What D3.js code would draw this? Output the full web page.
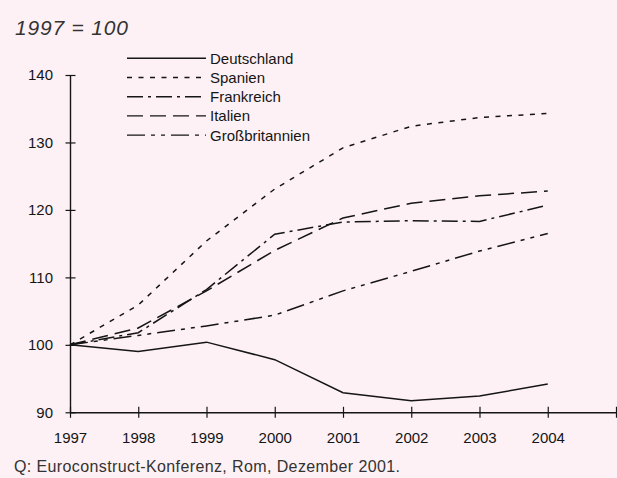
<!DOCTYPE html>
<html>
<head>
<meta charset="utf-8">
<script src="https://cdn.jsdelivr.net/npm/d3@7"></script>
<style>
  html, body { margin: 0; padding: 0; background: #fdf1f5; }
  svg { display: block; font-family: "Liberation Sans", Arial, sans-serif; }
</style>
</head>
<body>
<div id="container"></div>
<script>
const width = 617, height = 478;

// Data — construction index, 1997 = 100
const years = [1997, 1998, 1999, 2000, 2001, 2002, 2003, 2004];
const deutschland = [100, 99.0, 100.4, 97.8, 92.9, 91.7, 92.4, 94.2];
const spanien = [100, 105.9, 115.4, 123.1, 129.2, 132.4, 133.7, 134.3];
const frankreich = [100, 101.8, 108.2, 116.4, 118.2, 118.4, 118.3, 120.7];
const italien = [100, 102.5, 108.0, 114.0, 118.8, 121.0, 122.1, 122.8];
const grossbritannien = [100, 101.4, 102.8, 104.4, 108.0, 110.9, 113.9, 116.5];
const yTicks = [90, 100, 110, 120, 130, 140];
const xTicks = [1997, 1998, 1999, 2000, 2001, 2002, 2003, 2004, 2005];

const series = [
  { name: "Deutschland", values: deutschland, dash: null },
  { name: "Spanien", values: spanien, dash: "5,6.5" },
  { name: "Frankreich", values: frankreich, dash: "16,5,3,5" },
  { name: "Italien", values: italien, dash: "16,7" },
  { name: "Großbritannien", values: grossbritannien, dash: "18,6,4,6,4,6" },
];

const svg = d3.select("#container").append("svg")
  .attr("width", width).attr("height", height);
svg.append("rect").attr("width", width).attr("height", height).attr("fill", "#fdf1f5");

const ink = "#151515";

// Scales
const x = d3.scaleLinear().domain([1997, 2005]).range([70, 616]);
const y = d3.scaleLinear().domain([90, 140]).range([412.3, 75]);

// Subtitle
svg.append("text")
  .attr("x", 15).attr("y", 35)
  .attr("fill", "#333")
  .style("font-size", "21px")
  .style("font-style", "italic")
  .attr("textLength", 113)
  .text("1997 = 100");

// Y axis
const yAxis = svg.append("g")
  .attr("transform", `translate(${x(1997)},0)`)
  .call(d3.axisLeft(y).tickValues(yTicks).tickSize(0).tickPadding(17));
yAxis.select(".domain").attr("stroke", ink).attr("stroke-width", 1.4);
yAxis.selectAll(".tick line").attr("x1", -4.5).attr("x2", 5.5)
  .attr("stroke", ink).attr("stroke-width", 1.2);
yAxis.selectAll("text")
  .attr("fill", ink).style("font-size", "15px")
  .style("font-family", "'Liberation Sans', Arial, sans-serif");

// X axis
const xAxis = svg.append("g")
  .attr("transform", `translate(0,${y(90)})`)
  .call(d3.axisBottom(x).tickValues(xTicks).tickSize(0).tickPadding(20)
    .tickFormat((d) => (d <= 2004 ? d : "")));
xAxis.select(".domain").attr("stroke", ink).attr("stroke-width", 1.4);
xAxis.selectAll(".tick line").attr("y1", -5.5).attr("y2", 5.5)
  .attr("stroke", ink).attr("stroke-width", 1.2);
xAxis.selectAll("text")
  .attr("fill", ink).style("font-size", "15px")
  .style("font-family", "'Liberation Sans', Arial, sans-serif");

// Lines
const line = d3.line()
  .x((d, i) => x(years[i]))
  .y((d) => y(d));

svg.selectAll("path.series").data(series).join("path")
  .attr("class", "series")
  .attr("d", (d) => line(d.values))
  .attr("fill", "none")
  .attr("stroke", ink)
  .attr("stroke-width", 1.5)
  .attr("stroke-dasharray", (d) => d.dash);

// Legend
const legend = svg.append("g");
series.forEach((s, i) => {
  const ly = 58.3 + i * 19.2;
  legend.append("line")
    .attr("x1", 127).attr("x2", 206)
    .attr("y1", ly).attr("y2", ly)
    .attr("stroke", ink).attr("stroke-width", 1.4)
    .attr("stroke-dasharray", s.dash);
  legend.append("text")
    .attr("x", 210).attr("y", ly)
    .attr("dominant-baseline", "central")
    .attr("fill", ink)
    .style("font-size", "15px")
    .text(s.name);
});

// Source
svg.append("text")
  .attr("x", 14).attr("y", 472)
  .attr("fill", "#333")
  .style("font-size", "16px")
  .attr("textLength", 386)
  .text("Q: Euroconstruct-Konferenz, Rom, Dezember 2001.");
</script>
</body>
</html>
